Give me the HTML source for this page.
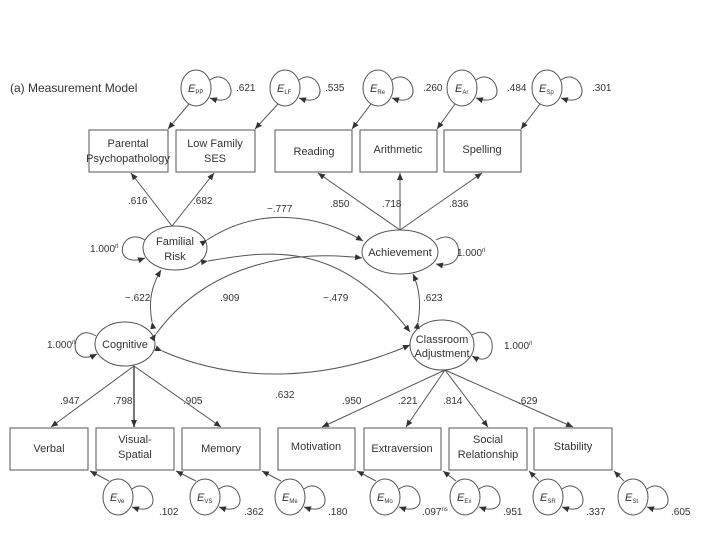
<!DOCTYPE html>
<html><head><meta charset="utf-8"><style>
body{margin:0;background:#fff}
svg{display:block}
text{font-family:"Liberation Sans",sans-serif;fill:#333}
</style></head><body>
<svg width="720" height="540" viewBox="0 0 720 540" xmlns="http://www.w3.org/2000/svg">
<defs>
<marker id="a" markerWidth="8" markerHeight="8" refX="7" refY="4" orient="auto" markerUnits="userSpaceOnUse">
<path d="M0,1 L7,4 L0,7 z" fill="#333"/></marker>
</defs>
<g stroke="#555" stroke-width="1" fill="none">
<rect x="89" y="130" width="79" height="42"/>
<rect x="176" y="130" width="79" height="42"/>
<rect x="275" y="130" width="77" height="42"/>
<rect x="360" y="130" width="77" height="42"/>
<rect x="444" y="130" width="77" height="42"/>
<rect x="10" y="428" width="78" height="42"/>
<rect x="96" y="428" width="78" height="42"/>
<rect x="182" y="428" width="78" height="42"/>
<rect x="278" y="428" width="77" height="42"/>
<rect x="364" y="428" width="77" height="42"/>
<rect x="449" y="428" width="78" height="42"/>
<rect x="534" y="428" width="78" height="42"/>
<ellipse cx="175" cy="248" rx="32" ry="22"/>
<ellipse cx="400" cy="252" rx="38" ry="22"/>
<ellipse cx="125" cy="344" rx="30" ry="22"/>
<ellipse cx="442" cy="345" rx="32" ry="25"/>
<path d="M145,240 C120,225 110,270 145,258" marker-end="url(#a)"/>
<path d="M436,240 C462,225 470,272 436,264" marker-end="url(#a)"/>
<path d="M96,336 C70,320 66,370 97,354" marker-end="url(#a)"/>
<path d="M472,335 C498,320 500,372 472,356" marker-end="url(#a)"/>
<g>
<ellipse cx="196" cy="88" rx="15" ry="18"/><path d="M210,80 C230,65 245,110 210,98" marker-end="url(#a)"/>
<ellipse cx="285" cy="88" rx="15" ry="18"/><path d="M299,80 C319,65 334,110 299,98" marker-end="url(#a)"/>
<ellipse cx="378" cy="88" rx="15" ry="18"/><path d="M392,80 C412,65 427,110 392,98" marker-end="url(#a)"/>
<ellipse cx="462" cy="88" rx="15" ry="18"/><path d="M476,80 C496,65 511,110 476,98" marker-end="url(#a)"/>
<ellipse cx="547" cy="88" rx="15" ry="18"/><path d="M561,80 C581,65 596,110 561,98" marker-end="url(#a)"/>
</g>
<line x1="189" y1="104" x2="168" y2="129" marker-end="url(#a)"/>
<line x1="278" y1="104" x2="255" y2="129" marker-end="url(#a)"/>
<line x1="371" y1="104" x2="352" y2="129" marker-end="url(#a)"/>
<line x1="455" y1="104" x2="437" y2="129" marker-end="url(#a)"/>
<line x1="540" y1="104" x2="521" y2="129" marker-end="url(#a)"/>
<g>
<ellipse cx="118" cy="497" rx="15" ry="18"/><path d="M132,489 C152,474 167,519 132,507" marker-end="url(#a)"/>
<ellipse cx="205" cy="497" rx="15" ry="18"/><path d="M219,489 C239,474 254,519 219,507" marker-end="url(#a)"/>
<ellipse cx="290" cy="497" rx="15" ry="18"/><path d="M304,489 C324,474 339,519 304,507" marker-end="url(#a)"/>
<ellipse cx="385" cy="497" rx="15" ry="18"/><path d="M399,489 C419,474 434,519 399,507" marker-end="url(#a)"/>
<ellipse cx="465" cy="497" rx="15" ry="18"/><path d="M479,489 C499,474 514,519 479,507" marker-end="url(#a)"/>
<ellipse cx="548" cy="497" rx="15" ry="18"/><path d="M562,489 C582,474 597,519 562,507" marker-end="url(#a)"/>
<ellipse cx="633" cy="497" rx="15" ry="18"/><path d="M647,489 C667,474 682,519 647,507" marker-end="url(#a)"/>
</g>
<line x1="109" y1="481" x2="90" y2="471" marker-end="url(#a)"/>
<line x1="196" y1="481" x2="176" y2="471" marker-end="url(#a)"/>
<line x1="281" y1="481" x2="262" y2="471" marker-end="url(#a)"/>
<line x1="376" y1="481" x2="357" y2="471" marker-end="url(#a)"/>
<line x1="456" y1="481" x2="443" y2="471" marker-end="url(#a)"/>
<line x1="539" y1="481" x2="529" y2="471" marker-end="url(#a)"/>
<line x1="624" y1="481" x2="614" y2="471" marker-end="url(#a)"/>
<line x1="172" y1="226" x2="131" y2="173" marker-end="url(#a)"/>
<line x1="172" y1="226" x2="214" y2="173" marker-end="url(#a)"/>
<line x1="400" y1="230" x2="318" y2="173" marker-end="url(#a)"/>
<line x1="400" y1="230" x2="400" y2="173" marker-end="url(#a)"/>
<line x1="400" y1="230" x2="482" y2="173" marker-end="url(#a)"/>
<line x1="134" y1="366" x2="51" y2="427" marker-end="url(#a)"/>
<line x1="134" y1="366" x2="134" y2="427" stroke-width="1.6" marker-end="url(#a)"/>
<line x1="134" y1="366" x2="221" y2="427" marker-end="url(#a)"/>
<line x1="445" y1="370" x2="322" y2="427" marker-end="url(#a)"/>
<line x1="445" y1="370" x2="406" y2="427" marker-end="url(#a)"/>
<line x1="445" y1="370" x2="488" y2="427" marker-end="url(#a)"/>
<line x1="445" y1="370" x2="573" y2="427" marker-end="url(#a)"/>
<path d="M207,240 C260,205 320,215 363,241" marker-start="url(#a)" marker-end="url(#a)"/>
<path d="M208,261 C270,250 340,240 410,332" marker-start="url(#a)" marker-end="url(#a)"/>
<path d="M156,334 C210,260 300,250 362,258" marker-start="url(#a)" marker-end="url(#a)"/>
<path d="M152,322 C148,300 152,285 161,270" marker-start="url(#a)" marker-end="url(#a)"/>
<path d="M418,322 C422,300 418,285 413,274" marker-start="url(#a)" marker-end="url(#a)"/>
<path d="M162,351 C240,385 330,380 410,345" marker-start="url(#a)" marker-end="url(#a)"/>
</g>
<g font-size="11">
<text x="10" y="92" font-size="12">(a)  Measurement Model</text>
<text x="128" y="147" text-anchor="middle">Parental</text>
<text x="128" y="162" text-anchor="middle">Psychopathology</text>
<text x="215" y="147" text-anchor="middle">Low Family</text>
<text x="215" y="162" text-anchor="middle">SES</text>
<text x="314" y="155" text-anchor="middle">Reading</text>
<text x="398" y="153" text-anchor="middle">Arithmetic</text>
<text x="482" y="153" text-anchor="middle">Spelling</text>
<text x="49" y="452" text-anchor="middle">Verbal</text>
<text x="135" y="443" text-anchor="middle">Visual-</text>
<text x="135" y="458" text-anchor="middle">Spatial</text>
<text x="221" y="452" text-anchor="middle">Memory</text>
<text x="316" y="450" text-anchor="middle">Motivation</text>
<text x="402" y="452" text-anchor="middle">Extraversion</text>
<text x="488" y="443" text-anchor="middle">Social</text>
<text x="488" y="458" text-anchor="middle">Relationship</text>
<text x="573" y="450" text-anchor="middle">Stability</text>
<text x="175" y="245" text-anchor="middle">Familial</text>
<text x="175" y="260" text-anchor="middle">Risk</text>
<text x="400" y="256" text-anchor="middle">Achievement</text>
<text x="125" y="348" text-anchor="middle">Cognitive</text>
<text x="442" y="343" text-anchor="middle">Classroom</text>
<text x="442" y="357" text-anchor="middle">Adjustment</text>
<text x="90" y="252" font-size="10">1.000<tspan font-size="6" dy="-4">rl</tspan></text>
<text x="457" y="256" font-size="10">1.000<tspan font-size="6" dy="-4">rl</tspan></text>
<text x="47" y="348" font-size="10">1.000<tspan font-size="6" dy="-4">rl</tspan></text>
<text x="504" y="349" font-size="10">1.000<tspan font-size="6" dy="-4">rl</tspan></text>
<g font-size="10">
<text x="236" y="91">.621</text><text x="325" y="91">.535</text><text x="423" y="91">.260</text><text x="507" y="91">.484</text><text x="592" y="91">.301</text>
<text x="128" y="204">.616</text><text x="193" y="204">.682</text>
<text x="330" y="207">.850</text><text x="382" y="207">.718</text><text x="449" y="207">.836</text>
<text x="267" y="212">−.777</text>
<text x="125" y="301">−.622</text><text x="220" y="301">.909</text><text x="323" y="301">−.479</text><text x="423" y="301">.623</text>
<text x="60" y="404">.947</text><text x="113" y="404">.798</text><text x="183" y="404">.905</text>
<text x="275" y="398">.632</text>
<text x="342" y="404">.950</text><text x="398" y="404">.221</text><text x="443" y="404">.814</text><text x="518" y="404">.629</text>
<text x="159" y="515">.102</text><text x="244" y="515">.362</text><text x="328" y="515">.180</text>
<text x="422" y="515">.097<tspan font-size="6" dy="-4">ns</tspan></text>
<text x="503" y="515">.951</text><text x="586" y="515">.337</text><text x="671" y="515">.605</text>
</g>
<g font-size="11" font-style="italic">
<text x="188" y="92">E<tspan font-size="6" dy="2" font-style="normal">PP</tspan></text>
<text x="277" y="92">E<tspan font-size="6" dy="2" font-style="normal">LF</tspan></text>
<text x="370" y="92">E<tspan font-size="6" dy="2" font-style="normal">Re</tspan></text>
<text x="455" y="92">E<tspan font-size="6" dy="2" font-style="normal">Ar</tspan></text>
<text x="539" y="92">E<tspan font-size="6" dy="2" font-style="normal">Sp</tspan></text>
<text x="110" y="501">E<tspan font-size="6" dy="2" font-style="normal">Ve</tspan></text>
<text x="197" y="501">E<tspan font-size="6" dy="2" font-style="normal">VS</tspan></text>
<text x="282" y="501">E<tspan font-size="6" dy="2" font-style="normal">Me</tspan></text>
<text x="377" y="501">E<tspan font-size="6" dy="2" font-style="normal">Mo</tspan></text>
<text x="457" y="501">E<tspan font-size="6" dy="2" font-style="normal">Ex</tspan></text>
<text x="540" y="501">E<tspan font-size="6" dy="2" font-style="normal">SR</tspan></text>
<text x="625" y="501">E<tspan font-size="6" dy="2" font-style="normal">St</tspan></text>
</g>
</g>
</svg>
</body></html>
